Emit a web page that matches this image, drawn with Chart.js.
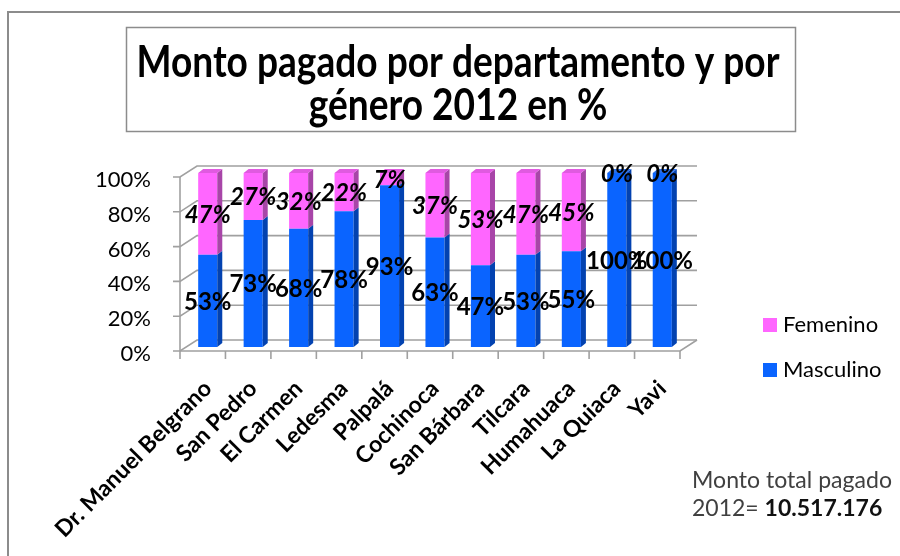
<!DOCTYPE html>
<html>
<head>
<meta charset="utf-8">
<script src="https://cdn.jsdelivr.net/npm/chart.js@4/dist/chart.umd.min.js"></script>
<style>
html,body{margin:0;padding:0;background:#fff;}
#wrap{width:900px;height:556px;position:relative;}
canvas{display:block;}
</style>
</head>
<body>
<div id="wrap"><canvas id="c" width="900" height="556"></canvas></div>
<script>
const categories = ['Dr. Manuel Belgrano','San Pedro','El Carmen','Ledesma','Palpalá','Cochinoca','San Bárbara','Tilcara','Humahuaca','La Quiaca','Yavi'];
const masculino = [53,73,68,78,93,63,47,53,55,100,100];
const femenino = [47,27,32,22,7,37,53,47,45,0,0];
const yTicks = [0,20,40,60,80,100];
const titleLines = ['Monto pagado por departamento y por','género 2012 en %'];
const noteLine1 = 'Monto total pagado';
const notePrefix = '2012= ';
const noteValue = '10.517.176';

const FONT = 'Lato, "Open Sans", sans-serif';
const BLUE = '#0a64ff', BLUE_SIDE = '#0342b0', BLUE_TOP = '#2a6ee8';
const PINK = '#ff66ff', PINK_SIDE = '#a845a8', PINK_TOP = '#e05ae0';
const DX = 5, DY = -4; // bar depth

const decor = {
  id: 'decor',
  beforeDraw(chart) {
    const ctx = chart.ctx;
    ctx.save();
    ctx.strokeStyle = '#8c8c8c'; ctx.lineWidth = 2;
    ctx.beginPath(); ctx.moveTo(8, 600); ctx.lineTo(8, 12); ctx.lineTo(920, 12); ctx.stroke();
    ctx.lineWidth = 1.5; ctx.strokeStyle = '#8c8c8c';
    ctx.strokeRect(126.5, 27.5, 669, 104);
    ctx.fillStyle = '#000'; ctx.textAlign = 'center'; ctx.textBaseline = 'middle';
    ctx.font = 'bold 44px ' + FONT;
    const w0 = ctx.measureText(titleLines[0]).width;
    const sx = Math.min(1, 643 / w0);
    [[titleLines[0], 63], [titleLines[1], 106]].forEach(([t, y]) => {
      ctx.save(); ctx.translate(458, y); ctx.scale(sx, 1); ctx.fillText(t, 0, 0); ctx.restore();
    });
    ctx.restore();
  },
  beforeDatasetsDraw(chart) {
    const ctx = chart.ctx, ys = chart.scales.y, a = chart.chartArea;
    const bx = 12, by = -7, fx = -5, fy = 4;
    ctx.save();
    ctx.strokeStyle = '#a0a0a0'; ctx.lineWidth = 1.6;
    yTicks.forEach(v => {
      const y = ys.getPixelForValue(v);
      ctx.beginPath();
      ctx.moveTo(a.left + fx - 7, y + fy);
      ctx.lineTo(a.left + fx, y + fy);
      ctx.lineTo(a.left + bx, y + by);
      ctx.lineTo(a.right + bx, y + by);
      ctx.stroke();
    });
    ctx.beginPath();
    ctx.moveTo(a.left + fx, ys.getPixelForValue(0) + fy);
    ctx.lineTo(a.left + fx, ys.getPixelForValue(100) + fy);
    ctx.stroke();
    const yb = ys.getPixelForValue(0);
    ctx.beginPath();
    ctx.moveTo(a.left + fx, yb + fy);
    ctx.lineTo(a.right + fx, yb + fy);
    ctx.lineTo(a.right + bx, yb + by);
    ctx.stroke();
    const n = categories.length, cw = (a.right - a.left) / n;
    for (let k = 0; k <= n; k++) {
      const x = a.left + fx + k * cw;
      ctx.beginPath(); ctx.moveTo(x, yb + fy); ctx.lineTo(x, yb + fy + 8); ctx.stroke();
    }
    ctx.restore();
  },
  afterDatasetsDraw(chart) {
    const ctx = chart.ctx;
    const sides = [BLUE_SIDE, PINK_SIDE], tops = [BLUE_TOP, PINK_TOP];
    const metas = [chart.getDatasetMeta(0), chart.getDatasetMeta(1)];
    ctx.save();
    metas.forEach((meta, di) => {
      meta.data.forEach((bar, i) => {
        const val = chart.data.datasets[di].data[i];
        if (!val) return;
        const p = bar.getProps(['x', 'y', 'base', 'width'], true);
        const l = p.x - p.width / 2, r = p.x + p.width / 2;
        const top = Math.min(p.y, p.base), bot = Math.max(p.y, p.base);
        ctx.fillStyle = sides[di];
        ctx.beginPath();
        ctx.moveTo(r, bot); ctx.lineTo(r + DX, bot + DY); ctx.lineTo(r + DX, top + DY); ctx.lineTo(r, top);
        ctx.closePath(); ctx.fill();
        const isTop = di === 1 || !chart.data.datasets[1].data[i];
        if (isTop) {
          ctx.fillStyle = tops[di];
          ctx.beginPath();
          ctx.moveTo(l, top); ctx.lineTo(l + DX, top + DY); ctx.lineTo(r + DX, top + DY); ctx.lineTo(r, top);
          ctx.closePath(); ctx.fill();
        }
      });
    });
    ctx.fillStyle = '#000'; ctx.textAlign = 'center'; ctx.textBaseline = 'middle';
    metas.forEach((meta, di) => {
      ctx.font = (di === 1 ? 'italic ' : '') + 'bold 24px ' + FONT;
      meta.data.forEach((bar, i) => {
        const val = chart.data.datasets[di].data[i];
        const p = bar.getProps(['x', 'y', 'base'], true);
        ctx.fillText(val + '%', p.x, (p.y + p.base) / 2 + 1);
      });
    });
    ctx.restore();
  },
  afterDraw(chart) {
    const ctx = chart.ctx;
    ctx.save();
    const items = [[chart.data.datasets[1], 325], [chart.data.datasets[0], 370]];
    ctx.textBaseline = 'middle'; ctx.textAlign = 'left';
    ctx.font = '22px ' + FONT; ctx.fillStyle = '#000';
    items.forEach(([ds, y]) => {
      ctx.fillStyle = ds.backgroundColor;
      ctx.fillRect(763, y - 7, 14, 14);
      ctx.fillStyle = '#000';
      ctx.fillText(ds.label, 783, y);
    });
    ctx.fillStyle = '#404040';
    ctx.font = '23px ' + FONT;
    const w1 = ctx.measureText(noteLine1).width;
    const s1 = Math.min(1.15, 200 / w1);
    ctx.save(); ctx.translate(692, 481); ctx.scale(s1, 1); ctx.fillText(noteLine1, 0, 0); ctx.restore();
    ctx.fillText(notePrefix, 692, 509);
    const pw = ctx.measureText(notePrefix).width;
    ctx.font = 'bold 23px ' + FONT; ctx.fillStyle = '#111';
    ctx.fillText(noteValue, 692 + pw, 509);
    ctx.restore();
  }
};

new Chart(document.getElementById('c'), {
  type: 'bar',
  data: {
    labels: categories,
    datasets: [
      { label: 'Masculino', data: masculino, backgroundColor: BLUE, barPercentage: 0.42, categoryPercentage: 1 },
      { label: 'Femenino', data: femenino, backgroundColor: PINK, barPercentage: 0.42, categoryPercentage: 1 }
    ]
  },
  options: {
    responsive: false,
    animation: false,
    layout: { padding: { top: 173, right: 215, left: 0, bottom: 0 } },
    plugins: { legend: { display: false }, title: { display: false }, tooltip: { enabled: false } },
    scales: {
      x: {
        stacked: true,
        grid: { display: false }, border: { display: false },
        ticks: { autoSkip: false, maxRotation: 45, minRotation: 45, padding: 20, color: '#000',
                 font: { family: FONT, weight: 'bold', size: 23 } },
        afterFit: s => { s.height = 556 - 347; }
      },
      y: {
        stacked: true, min: 0, max: 100,
        grid: { display: false }, border: { display: false },
        afterBuildTicks: s => { s.ticks = yTicks.map(v => ({ value: v })); },
        ticks: { callback: v => v + '%', padding: 26, labelOffset: 7, color: '#000',
                 font: { family: FONT, size: 22 } },
        afterFit: s => { s.width = 185; }
      }
    }
  },
  plugins: [decor]
});
</script>
</body>
</html>
